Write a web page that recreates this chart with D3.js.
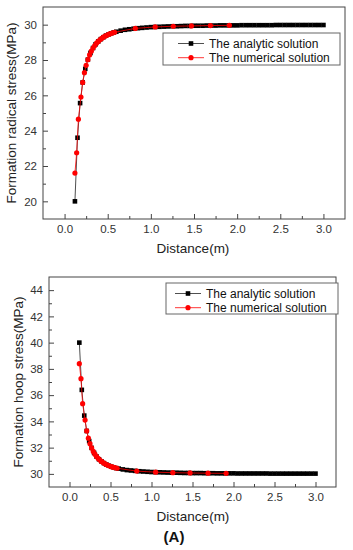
<!DOCTYPE html>
<html>
<head>
<meta charset="utf-8">
<script src="https://cdn.jsdelivr.net/npm/d3@7"></script>
<style>
  body { margin: 0; background: #fff; }
  text { font-family: "Liberation Sans", Arial, sans-serif; }
</style>
</head>
<body>
<div id="chart"></div>
<script>
// Analytic solution (black squares)
const distA = [0.12,0.15,0.18,0.21,0.24,0.27,0.30,0.33,0.36,0.39,0.42,0.45,0.48,0.51,0.54,0.57,0.60,
  0.65,0.70,0.75,0.80,0.85,0.90,0.95,1.00,1.05,1.10,1.15,1.20,1.25,1.30,1.35,1.40,1.45,1.50,1.55,1.60,
  1.65,1.70,1.75,1.80,1.85,1.90,1.95,2.00,2.05,2.10,2.15,2.20,2.25,2.30,2.35,2.40,2.45,2.50,2.55,2.60,
  2.65,2.70,2.75,2.80,2.85,2.90,2.95,3.00];
const radialA = [20.0,23.6,25.56,26.73,27.5,28.02,28.4,28.68,28.89,29.05,29.18,29.29,29.38,29.45,29.51,29.56,29.6,
  29.66,29.71,29.74,29.77,29.8,29.82,29.84,29.86,29.87,29.88,29.89,29.9,29.91,29.91,29.92,29.93,29.93,29.94,29.94,29.94,
  29.95,29.95,29.95,29.96,29.96,29.96,29.96,29.96,29.97,29.97,29.97,29.97,29.97,29.97,29.97,29.97,29.98,29.98,29.98,29.98,
  29.98,29.98,29.98,29.98,29.98,29.98,29.98,29.98];
const hoopA = [40.0,36.4,34.44,33.27,32.5,31.98,31.6,31.32,31.11,30.95,30.82,30.71,30.62,30.55,30.49,30.44,30.4,
  30.34,30.29,30.26,30.23,30.2,30.18,30.16,30.14,30.13,30.12,30.11,30.1,30.09,30.09,30.08,30.07,30.07,30.06,30.06,30.06,
  30.05,30.05,30.05,30.04,30.04,30.04,30.04,30.04,30.03,30.03,30.03,30.03,30.03,30.03,30.03,30.03,30.02,30.02,30.02,30.02,
  30.02,30.02,30.02,30.02,30.02,30.02,30.02,30.02];

// Numerical solution (red circles)
const distN = [0.12,0.14,0.16,0.19,0.21,0.23,0.25,0.27,0.29,0.31,0.33,0.35,0.37,0.39,0.41,0.43,0.45,0.47,0.49,0.51,
  0.53,0.555,0.58,0.82,1.05,1.26,1.47,1.69,1.91];
const radialN = [21.6,22.75,24.65,25.9,26.73,27.28,27.7,28.02,28.29,28.5,28.68,28.82,28.95,29.05,29.14,29.22,29.29,29.35,
  29.4,29.45,29.49,29.53,29.57,29.79,29.87,29.91,29.93,29.95,29.96];
const hoopN = [38.4,37.25,35.35,34.1,33.27,32.72,32.3,31.98,31.71,31.5,31.32,31.18,31.05,30.95,30.86,30.78,30.71,30.65,
  30.6,30.55,30.51,30.47,30.43,30.21,30.13,30.09,30.07,30.05,30.04];

const xTicks = [0, 0.5, 1.0, 1.5, 2.0, 2.5, 3.0];
const xMinor = [0.25, 0.75, 1.25, 1.75, 2.25, 2.75];
const radialTicks = [20, 22, 24, 26, 28, 30];
const radialMinor = [21, 23, 25, 27, 29];
const hoopTicks = [30, 32, 34, 36, 38, 40, 42, 44];
const hoopMinor = [31, 33, 35, 37, 39, 41, 43];
const legendLabels = ["The analytic solution", "The numerical solution"];

const W = 353, H = 550;
const svg = d3.select("#chart").append("svg").attr("width", W).attr("height", H);

function drawPanel(p) {
  const x = d3.scaleLinear().domain([-0.25, 3.25]).range([p.left, p.right]);
  const y = d3.scaleLinear().domain(p.yDomain).range([p.bottom, p.top]);
  const g = svg.append("g");

  // bottom axis, inward ticks
  g.append("g").attr("transform", `translate(0,${p.bottom})`)
    .call(d3.axisBottom(x).tickValues(xTicks).tickSizeInner(-5).tickSizeOuter(0).tickPadding(6).tickFormat(d3.format(".1f")));
  g.append("g").attr("transform", `translate(0,${p.bottom})`)
    .call(d3.axisBottom(x).tickValues(xMinor).tickSizeInner(-3).tickSizeOuter(0).tickFormat(""));
  g.append("g").attr("transform", `translate(${p.left},0)`)
    .call(d3.axisLeft(y).tickValues(p.yTicks).tickSizeInner(-5).tickSizeOuter(0).tickPadding(6));
  g.append("g").attr("transform", `translate(${p.left},0)`)
    .call(d3.axisLeft(y).tickValues(p.yMinor).tickSizeInner(-3).tickSizeOuter(0).tickFormat(""));
  g.selectAll(".domain").remove();
  g.selectAll(".tick line").attr("stroke", "#444");
  g.selectAll(".tick text").attr("font-size", 11.5).attr("fill", "#333")
    .attr("font-family", "'Liberation Sans', Arial, sans-serif");

  // frame
  g.append("rect").attr("x", p.left).attr("y", p.top)
    .attr("width", p.right - p.left).attr("height", p.bottom - p.top)
    .attr("fill", "none").attr("stroke", "#444").attr("stroke-width", 1);

  const line = d3.line().x(d => x(d[0])).y(d => y(d[1]));
  const aPts = distA.map((d, i) => [d, p.analytic[i]]);
  const nPts = distN.map((d, i) => [d, p.numerical[i]]);

  g.append("path").datum(aPts).attr("d", line).attr("fill", "none").attr("stroke", "#222").attr("stroke-width", 0.8);
  g.selectAll(".sq").data(aPts).enter().append("rect")
    .attr("x", d => x(d[0]) - 2.3).attr("y", d => y(d[1]) - 2.3)
    .attr("width", 4.6).attr("height", 4.6).attr("fill", "#000");

  g.append("path").datum(nPts).attr("d", line).attr("fill", "none").attr("stroke", "#f00").attr("stroke-width", 0.8);
  g.selectAll(".ci").data(nPts).enter().append("circle")
    .attr("cx", d => x(d[0])).attr("cy", d => y(d[1])).attr("r", 2.6).attr("fill", "#f00");

  // legend
  const lg = g.append("g");
  lg.append("rect").attr("x", p.leg.x).attr("y", p.leg.y).attr("width", p.leg.w).attr("height", p.leg.h)
    .attr("fill", "#fff").attr("stroke", "#666").attr("stroke-width", 1);
  legendLabels.forEach((lab, i) => {
    const cy = p.leg.y + 10.5 + i * 14.2;
    const sx = p.leg.x + p.leg.sym;
    const col = i === 0 ? "#222" : "#f00";
    lg.append("line").attr("x1", sx - 13).attr("x2", sx + 13).attr("y1", cy).attr("y2", cy)
      .attr("stroke", col).attr("stroke-width", 0.8);
    if (i === 0) {
      lg.append("rect").attr("x", sx - 2.3).attr("y", cy - 2.3).attr("width", 4.6).attr("height", 4.6).attr("fill", "#000");
    } else {
      lg.append("circle").attr("cx", sx).attr("cy", cy).attr("r", 2.6).attr("fill", "#f00");
    }
    lg.append("text").attr("x", sx + 18).attr("y", cy).attr("dy", "0.35em")
      .attr("font-size", 12).attr("fill", "#111").text(lab);
  });

  // axis titles
  g.append("text").attr("x", 193).attr("y", p.bottom + 34)
    .attr("text-anchor", "middle").attr("font-size", 13.5).attr("fill", "#222").text("Distance(m)");
  g.append("text").attr("transform", `translate(${p.ytX},${(p.top + p.bottom) / 2}) rotate(-90)`)
    .attr("text-anchor", "middle").attr("font-size", 13.5).attr("fill", "#222").text(p.yTitle);
}

drawPanel({
  left: 43, right: 345, top: 7, bottom: 219,
  yDomain: [19, 31], yTicks: radialTicks, yMinor: radialMinor,
  analytic: radialA, numerical: radialN,
  yTitle: "Formation radical stress(MPa)", ytX: 16,
  leg: { x: 163, y: 33, w: 177, h: 32, sym: 28 }
});

drawPanel({
  left: 49, right: 336, top: 277, bottom: 487,
  yDomain: [29, 45], yTicks: hoopTicks, yMinor: hoopMinor,
  analytic: hoopA, numerical: hoopN,
  yTitle: "Formation hoop stress(MPa)", ytX: 23,
  leg: { x: 166, y: 283, w: 172, h: 31, sym: 22 }
});

svg.append("text").attr("x", 174).attr("y", 542).attr("text-anchor", "middle")
  .attr("font-family", "'Liberation Serif', 'Times New Roman', serif")
  .attr("font-weight", "bold").attr("font-size", 15).attr("fill", "#111").text("(A)");
</script>
</body>
</html>
